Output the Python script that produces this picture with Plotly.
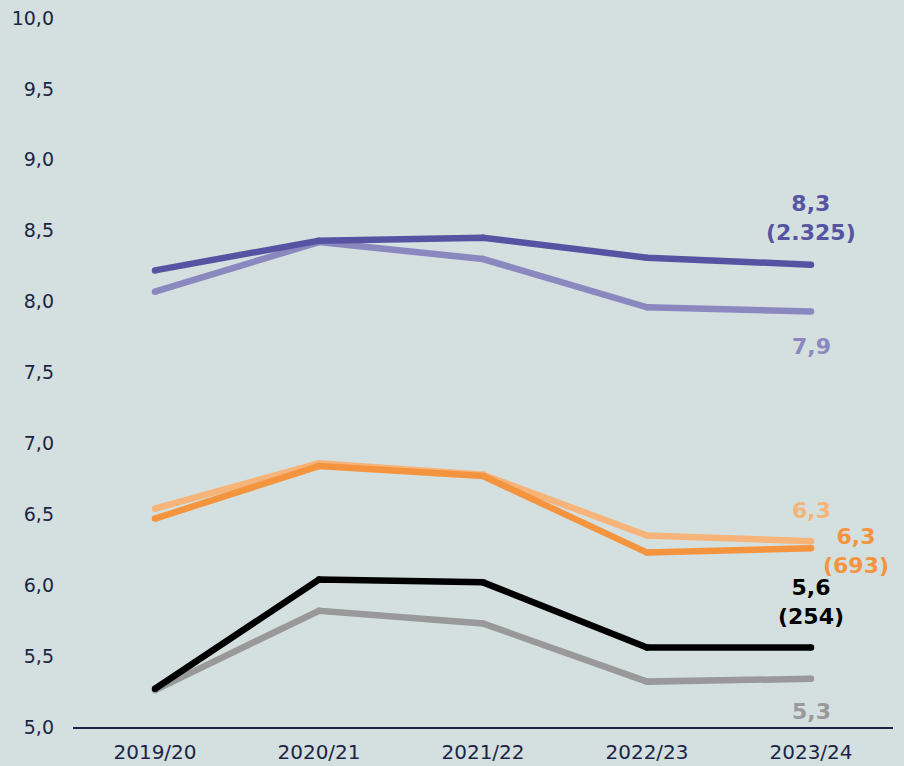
import plotly.graph_objects as go

years = ["2019/20", "2020/21", "2021/22", "2022/23", "2023/24"]
purple_light = [8.07, 8.42, 8.30, 7.96, 7.93]
purple_dark = [8.22, 8.43, 8.45, 8.31, 8.26]
orange_light = [6.54, 6.86, 6.78, 6.35, 6.31]
orange_dark = [6.47, 6.84, 6.77, 6.23, 6.26]
gray_vals = [5.26, 5.82, 5.73, 5.32, 5.34]
black_vals = [5.27, 6.04, 6.02, 5.56, 5.56]

y_ticks = [5.0, 5.5, 6.0, 6.5, 7.0, 7.5, 8.0, 8.5, 9.0, 9.5, 10.0]
y_tick_labels = ["5,0", "5,5", "6,0", "6,5", "7,0", "7,5", "8,0", "8,5", "9,0", "9,5", "10,0"]

end_labels = [
    ("8,3<br>(2.325)", 8.59, "#5654a2", 0),
    ("7,9", 7.68, "#8b88c0", 0),
    ("6,3", 6.53, "#f6b47a", 0),
    ("6,3<br>(693)", 6.24, "#f5943f", 45),
    ("5,6<br>(254)", 5.88, "#000000", 0),
    ("5,3", 5.11, "#999999", 0),
]

series = [
    (purple_light, "#8b88c0"),
    (purple_dark, "#5654a2"),
    (orange_light, "#f6b47a"),
    (orange_dark, "#f5943f"),
    (gray_vals, "#999999"),
    (black_vals, "#000000"),
]

fig = go.Figure()
for vals, col in series:
    fig.add_trace(go.Scatter(x=years, y=vals, mode="lines+markers",
                             line=dict(color=col, width=6.5),
                             marker=dict(color=col, size=6.5, line=dict(width=0)),
                             hoverinfo="skip", showlegend=False, cliponaxis=False))

for text, yv, col, xs in end_labels:
    fig.add_annotation(x=years[-1], y=yv, text="<b>" + text + "</b>", showarrow=False,
                       xshift=xs, yanchor="middle", xanchor="center",
                       font=dict(family="DejaVu Sans", size=22, color=col))

bg = "#d3e0df"
navy = "#1b2445"
fig.update_layout(
    width=904, height=766,
    paper_bgcolor=bg, plot_bgcolor=bg,
    margin=dict(l=65, r=19, t=10, b=47),
    font=dict(family="DejaVu Sans", size=19, color=navy),
    showlegend=False,
)
fig.update_xaxes(range=[-0.5, 4.5], showgrid=False, zeroline=False,
                 showline=True, linecolor=navy, linewidth=2,
                 ticks="", ticklabelstandoff=6,
                 tickfont=dict(family="DejaVu Sans", size=20, color=navy))
fig.update_yaxes(range=[5.0, 10.0], showgrid=False, zeroline=False, showline=False,
                 tickvals=y_ticks, ticktext=y_tick_labels, ticks="",
                 ticklabelstandoff=18, automargin=False, ticklabeloverflow="allow",
                 tickfont=dict(family="DejaVu Sans", size=19, color=navy))

fig.write_html("out.html",
               post_script="document.body.style.background='%s';" % bg)
